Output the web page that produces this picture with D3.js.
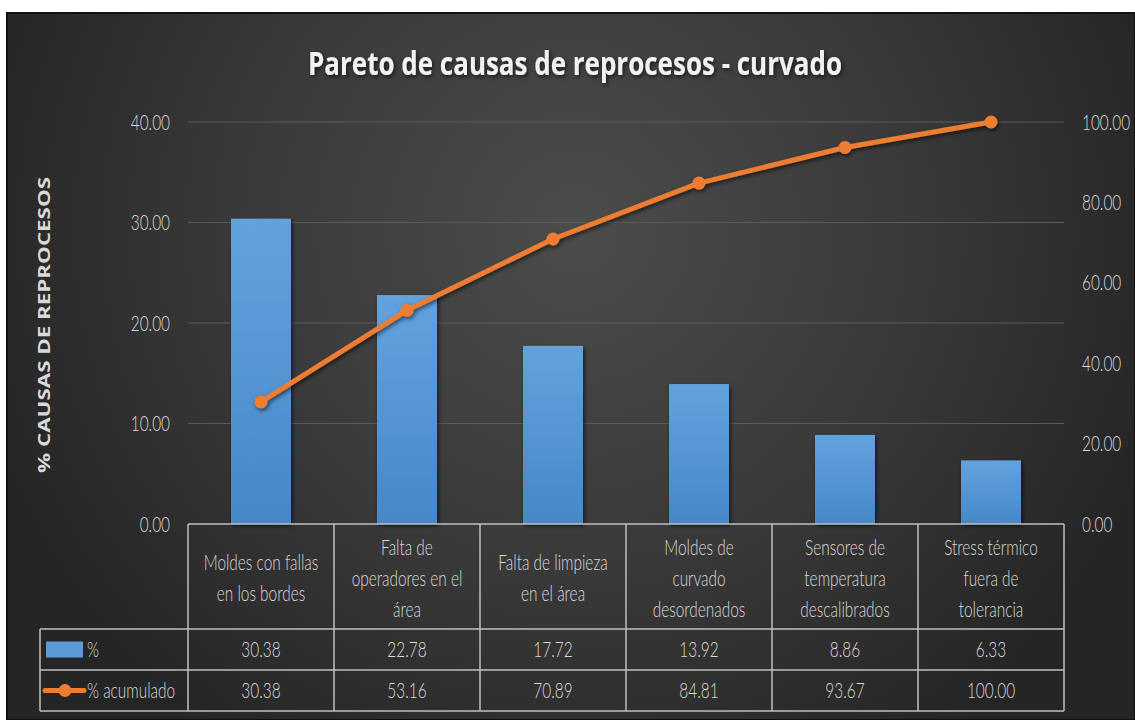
<!DOCTYPE html>
<html><head><meta charset="utf-8">
<script src="https://cdn.jsdelivr.net/npm/d3@7"></script>
<style>
html,body{margin:0;padding:0;background:#fff;}
svg{display:block;}
</style></head>
<body>
<script>
const categories = [
  ["Moldes con fallas","en los bordes"],
  ["Falta de","operadores en el","área"],
  ["Falta de limpieza","en el área"],
  ["Moldes de","curvado","desordenados"],
  ["Sensores de","temperatura","descalibrados"],
  ["Stress térmico","fuera de","tolerancia"]
];
const pct = [30.38, 22.78, 17.72, 13.92, 8.86, 6.33];
const cum = [30.38, 53.16, 70.89, 84.81, 93.67, 100.00];
const leftTicks = [0, 10, 20, 30, 40];
const rightTicks = [0, 20, 40, 60, 80, 100];
const seriesNames = ["%", "% acumulado"];
const title = "Pareto de causas de reprocesos - curvado";
const yTitle = "% CAUSAS DE REPROCESOS";

const W = 1135, H = 720;
const font = "Lato, 'DejaVu Sans', sans-serif";
const FS = 22;
const SX = 0.7;
const svg = d3.select("body").append("svg").attr("width", W).attr("height", H);
const defs = svg.append("defs");
const rg = defs.append("radialGradient").attr("id","bg").attr("gradientUnits","userSpaceOnUse")
  .attr("cx",575).attr("cy",230).attr("r",620);
rg.append("stop").attr("offset","0").attr("stop-color","#4c4c4c");
rg.append("stop").attr("offset","0.55").attr("stop-color","#393939");
rg.append("stop").attr("offset","1").attr("stop-color","#252525");
const bg = defs.append("linearGradient").attr("id","bar").attr("x1",0).attr("x2",0).attr("y1",0).attr("y2",1);
bg.append("stop").attr("offset","0").attr("stop-color","#62a2dd");
bg.append("stop").attr("offset","1").attr("stop-color","#4688c8");
const sh = defs.append("filter").attr("id","sh").attr("x","-10%").attr("y","-10%").attr("width","130%").attr("height","130%");
sh.append("feDropShadow").attr("dx",1.5).attr("dy",2).attr("stdDeviation",2).attr("flood-color","#000").attr("flood-opacity",0.6);

// frame
svg.append("rect").attr("x",0).attr("y",0).attr("width",W).attr("height",12).attr("fill","#fff");
svg.append("rect").attr("x",7).attr("y",13).attr("width",W-7).attr("height",H-13)
  .attr("fill","url(#bg)").attr("stroke","#111").attr("stroke-width",2);

const x0 = 188, x1 = 1064;
const x = d3.scaleBand().domain(d3.range(categories.length)).range([x0, x1]).paddingInner(0).paddingOuter(0);
const yL = d3.scaleLinear().domain([0, 40]).range([524, 122]);
const yR = d3.scaleLinear().domain([0, 100]).range([524, 122]);

// gridlines
svg.append("g").selectAll("line").data(leftTicks.filter(d=>d>0)).join("line")
  .attr("x1",x0).attr("x2",x1).attr("y1",d=>yL(d)).attr("y2",d=>yL(d))
  .attr("stroke","#5a5a5a").attr("stroke-width",1.2);

// left axis
const gl = svg.append("g").attr("transform",`translate(${x0},0)`)
  .call(d3.axisLeft(yL).tickValues(leftTicks).tickFormat(d3.format(".2f")).tickSize(0).tickPadding(18));
gl.select(".domain").remove();
gl.selectAll("text").attr("fill","#d9d9d9").attr("font-family",font).attr("font-weight",300).attr("font-size",FS).classed("nar",true);

// right axis
const gr = svg.append("g").attr("transform",`translate(${x1},0)`)
  .call(d3.axisRight(yR).tickValues(rightTicks).tickFormat(d3.format(".2f")).tickSize(0).tickPadding(18));
gr.select(".domain").remove();
gr.selectAll("text").attr("fill","#d9d9d9").attr("font-family",font).attr("font-weight",300).attr("font-size",FS).classed("nar",true);

// bars
const bw = 60;
svg.append("g").selectAll("rect").data(pct).join("rect")
  .attr("x",(d,i)=>x(i)+x.bandwidth()/2-bw/2).attr("width",bw)
  .attr("y",d=>yL(d)).attr("height",d=>yL(0)-yL(d))
  .attr("fill","url(#bar)").attr("filter","url(#sh)");

// line
const line = d3.line().x((d,i)=>x(i)+x.bandwidth()/2).y(d=>yR(d));
const lg = svg.append("g").attr("filter","url(#sh)");
lg.append("path").datum(cum).attr("d",line).attr("fill","none")
  .attr("stroke","#ed7d31").attr("stroke-width",5).attr("stroke-linejoin","round");
lg.selectAll("circle").data(cum).join("circle")
  .attr("cx",(d,i)=>x(i)+x.bandwidth()/2).attr("cy",d=>yR(d)).attr("r",6.5).attr("fill","#ed7d31");

// title
svg.append("text").attr("x",575).attr("y",75).attr("text-anchor","middle")
  .attr("font-family","'Open Sans','DejaVu Sans',sans-serif").attr("font-weight","bold").attr("font-size",32)
  .attr("fill","#f2f2f2").attr("textLength",534).attr("lengthAdjust","spacingAndGlyphs")
  .attr("filter","url(#sh)").text(title);

// y title
svg.append("text").attr("transform","translate(50,325) rotate(-90)").attr("text-anchor","middle")
  .attr("font-family","'Open Sans','DejaVu Sans',sans-serif").attr("font-weight","bold").attr("font-size",16)
  .attr("fill","#d9d9d9").attr("textLength",296).attr("lengthAdjust","spacingAndGlyphs").text(yTitle);

// table
const tbl = svg.append("g");
const tc = "#bfbfbf";
const rowTop = 524, hdrBot = 629, r1Bot = 670, r2Bot = 711, legX = 40;
const colEdges = d3.range(categories.length+1).map(i => i<categories.length ? x(i) : x1);
tbl.selectAll("line.hv").data(colEdges).join("line")
  .attr("x1",d=>d).attr("x2",d=>d).attr("y1",rowTop).attr("y2",r2Bot)
  .attr("stroke",tc).attr("stroke-width",1.5);
tbl.append("line").attr("x1",x0).attr("x2",x1).attr("y1",rowTop).attr("y2",rowTop).attr("stroke",tc).attr("stroke-width",1.5);
[hdrBot, r1Bot, r2Bot].forEach(yy=>{
  tbl.append("line").attr("x1",legX).attr("x2",x1).attr("y1",yy).attr("y2",yy).attr("stroke",tc).attr("stroke-width",1.5);
});
tbl.append("line").attr("x1",legX).attr("x2",legX).attr("y1",hdrBot).attr("y2",r2Bot).attr("stroke",tc).attr("stroke-width",1.5);

function txt(g, xx, yy, t, anchor){
  return g.append("text").attr("x",xx).attr("y",yy).attr("text-anchor",anchor||"middle")
    .attr("font-family",font).attr("font-weight",300).attr("font-size",FS).attr("fill","#d9d9d9").classed("nar",true).text(t);
}
categories.forEach((lines,i)=>{
  const cx = x(i)+x.bandwidth()/2;
  const n = lines.length;
  const mid = 578;
  const lh = 31;
  lines.forEach((t,j)=> txt(tbl, cx, mid + (j-(n-1)/2)*lh + 8, t));
});
[[pct,(hdrBot+r1Bot)/2],[cum,(r1Bot+r2Bot)/2]].forEach(([vals,cy])=>{
  vals.forEach((v,i)=> txt(tbl, x(i)+x.bandwidth()/2, cy+8, d3.format(".2f")(v)));
});
const c1 = (hdrBot+r1Bot)/2, c2 = (r1Bot+r2Bot)/2;
tbl.append("rect").attr("x",46).attr("y",c1-8).attr("width",37).attr("height",16).attr("fill","#5b9bd5");
tbl.append("line").attr("x1",45).attr("x2",84).attr("y1",c2).attr("y2",c2).attr("stroke","#ed7d31").attr("stroke-width",5).attr("stroke-linecap","round");
tbl.append("circle").attr("cx",65).attr("cy",c2).attr("r",6.5).attr("fill","#ed7d31");
txt(tbl, 87, c1+8, seriesNames[0], "start");
txt(tbl, 87, c2+8, seriesNames[1], "start");

// horizontal condensing around each text's anchor x
svg.selectAll("text.nar").each(function(){
  const t = d3.select(this);
  const xx = +t.attr("x") || 0;
  t.attr("transform", `translate(${xx*(1-SX)},0) scale(${SX},1)`);
});
</script>
</body></html>
